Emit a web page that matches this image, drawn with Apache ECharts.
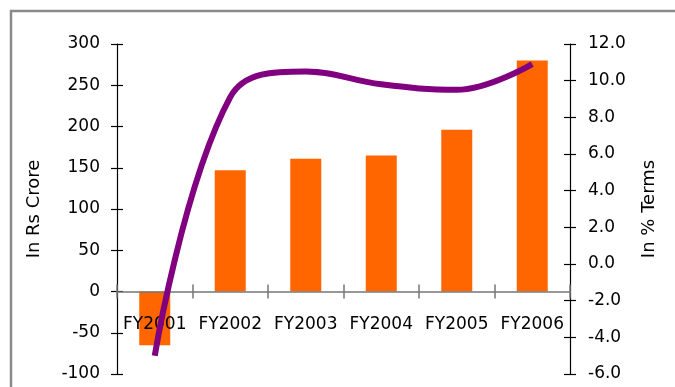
<!DOCTYPE html>
<html>
<head>
<meta charset="utf-8">
<script src="https://cdn.jsdelivr.net/npm/echarts@6/dist/echarts.min.js"></script>
<style>
html,body{margin:0;padding:0;background:#fff;}
#c{width:675px;height:387px;}
</style>
</head>
<body>
<div id="c"></div>
<script>
var categories = ['FY2001','FY2002','FY2003','FY2004','FY2005','FY2006'];
var crore = [-65, 147, 161, 165, 196, 280];
var pctTerms = [-5.0, 9.1, 10.5, 9.8, 9.5, 10.9];
var leftName = 'In Rs Crore';
var rightName = 'In % Terms';

var FONT = '"DejaVu Sans", sans-serif';
var chart = echarts.init(document.getElementById('c'));
var labelStyle = {color:'#000', fontFamily: FONT, fontSize: 17};
var nameStyle = {color:'#000', fontFamily: FONT, fontSize: 18};

chart.setOption({
  animation: false,
  backgroundColor: '#fff',
  graphic: [{
    type: 'rect', silent: true, z: 0,
    shape: {x: 11, y: 11, width: 700, height: 400},
    style: {fill: 'none', stroke: '#8a8a8a', lineWidth: 2.5}
  }],
  grid: {left: 117, right: 105, top: 44, bottom: 13, containLabel: false, outerBoundsMode: 'none'},
  xAxis: [{
    type: 'category', data: categories, z: 2,
    axisLine: {onZero: true, onZeroAxisIndex: 0, lineStyle: {color: '#777', width: 1.5}},
    axisTick: {show: true, length: 7, lineStyle: {color: '#777', width: 1.5}},
    axisLabel: {show: false},
    splitLine: {show: false}
  },{
    type: 'category', data: categories, z: 2, position: 'bottom',
    axisLine: {show: false, onZero: true, onZeroAxisIndex: 0},
    axisTick: {show: true, inside: true, length: 7, lineStyle: {color: '#777', width: 1.5}},
    axisLabel: {show: false},
    splitLine: {show: false}
  },{
    type: 'category', data: categories, z: 2, position: 'bottom',
    axisLine: {show: false, onZero: false},
    axisTick: {show: false},
    axisLabel: Object.assign({margin: -58, interval: 0}, labelStyle),
    splitLine: {show: false}
  }],
  yAxis: [{
    type: 'value', min: -100, max: 300, interval: 50, position: 'left',
    name: leftName, nameLocation: 'middle', nameGap: 74, nameRotate: 90,
    nameTextStyle: nameStyle,
    axisLine: {show: true, lineStyle: {color: '#000', width: 1.2}},
    axisTick: {show: true, length: 6, lineStyle: {color: '#000', width: 1.2}},
    axisLabel: Object.assign({margin: 17}, labelStyle),
    splitLine: {show: false}
  },{
    type: 'value', min: -6, max: 12, interval: 2, position: 'right',
    name: rightName, nameLocation: 'middle', nameGap: 70, nameRotate: 90,
    nameTextStyle: nameStyle,
    axisLine: {show: true, lineStyle: {color: '#000', width: 1.2}},
    axisTick: {show: true, length: 6, lineStyle: {color: '#000', width: 1.2}},
    axisLabel: Object.assign({margin: 18, formatter: function(v){return v.toFixed(1);}}, labelStyle),
    splitLine: {show: false}
  },{
    type: 'value', min: -100, max: 300, interval: 50, position: 'left',
    axisLine: {show: false},
    axisTick: {show: true, inside: true, length: 6, lineStyle: {color: '#000', width: 1.2}},
    axisLabel: {show: false}, splitLine: {show: false}
  },{
    type: 'value', min: -6, max: 12, interval: 2, position: 'right',
    axisLine: {show: false},
    axisTick: {show: true, inside: true, length: 6, lineStyle: {color: '#000', width: 1.2}},
    axisLabel: {show: false}, splitLine: {show: false}
  }],
  series: [{
    type: 'bar', data: crore, xAxisIndex: 0, yAxisIndex: 0, z: 1,
    barWidth: 31,
    itemStyle: {color: '#FF6600'}
  },{
    type: 'line', data: pctTerms, xAxisIndex: 0, yAxisIndex: 1, z: 3,
    smooth: 0.4, symbol: 'none',
    lineStyle: {color: '#800080', width: 6, cap: 'butt', join: 'round'}
  }]
});
</script>
</body>
</html>
